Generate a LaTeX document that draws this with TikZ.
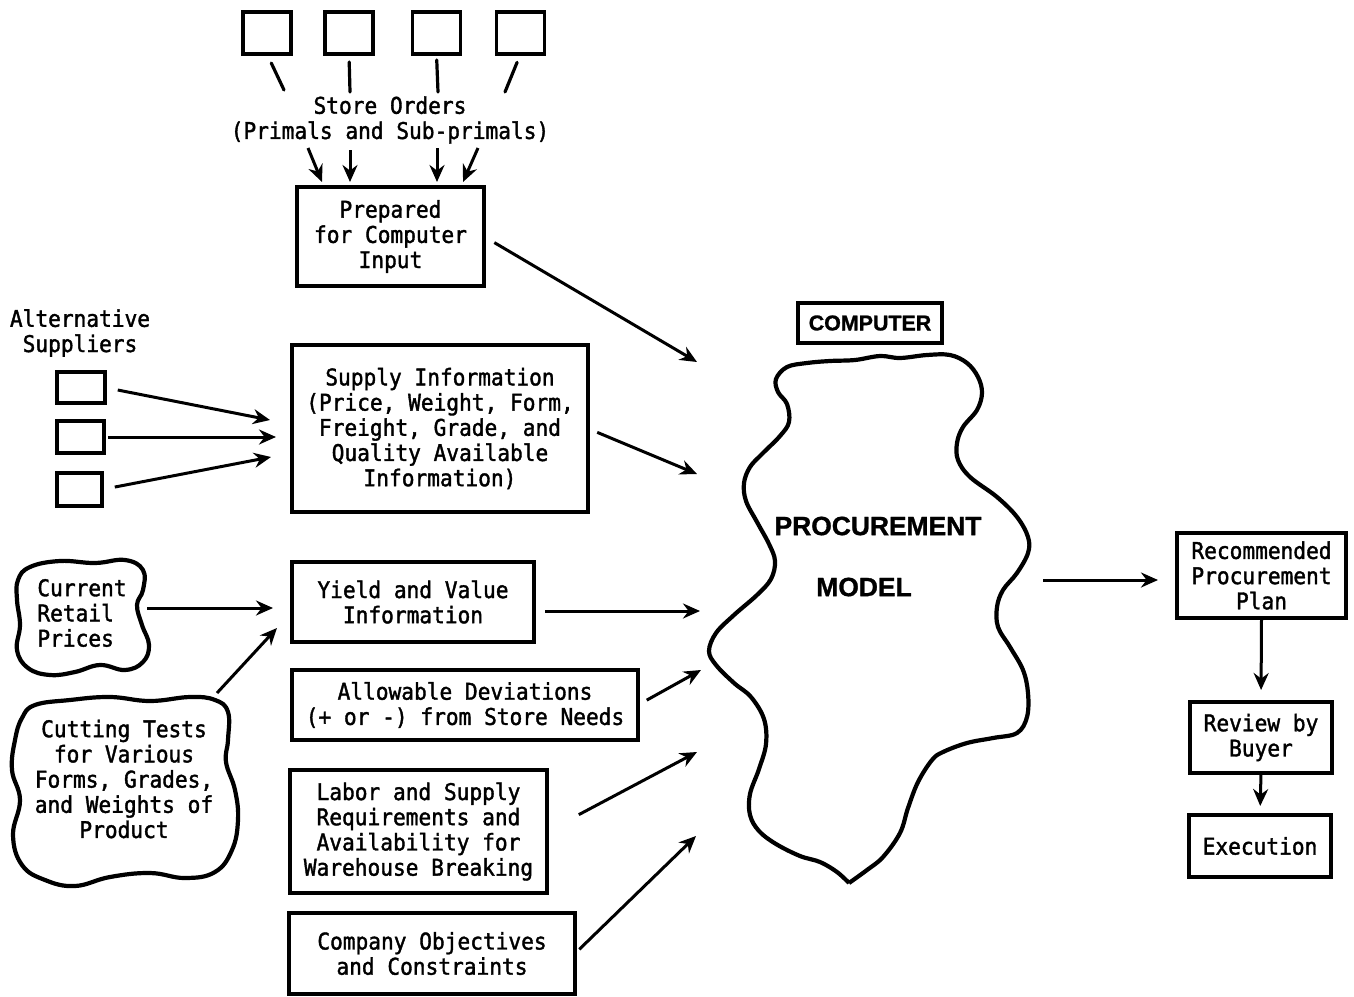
\documentclass[tikz,border=0pt]{standalone}
\usepackage{fontspec}
\usetikzlibrary{arrows.meta,calc}
\newfontfamily\typewr[FakeStretch=0.92,FakeBold=1.6]{DejaVu Sans Mono}
\newfontfamily\heavy[BoldFeatures={FakeBold=1.2}]{Liberation Sans}

\begin{document}
\begin{tikzpicture}[x=0.5pt,y=-0.5pt,
  every node/.style={inner sep=0pt, outer sep=0pt},
  tw/.style={font=\typewr\fontsize{11.5}{12.6}\selectfont, align=center},
  box/.style={tw, draw, line width=1.6pt},
  cell/.style={draw, line width=1.6pt, minimum width=24pt, minimum height=21pt},
  arr/.style={line width=1.5pt, -{Stealth[length=8.5pt,width=7.5pt,inset=2.8pt]}},
  wire/.style={line width=1.6pt, line cap=round},
  cloud/.style={line width=2.1pt, line join=round},
  hd/.style={font=\heavy\bfseries\fontsize{13.2}{14}\selectfont},
]
\path[use as bounding box] (0,0) rectangle (1354,996);

% ---------------- store orders ----------------
\node[cell] (s1) at (267,33) {};
\node[cell] (s2) at (349,33) {};
\node[cell] (s3) at (436.5,33) {};
\node[cell] (s4) at (520.5,33) {};
\node[tw] (orders) at (390,120) {Store Orders\\(Primals and Sub-primals)};

\coordinate (q1) at (284,90);
\coordinate (q2) at (350,92);
\coordinate (q3) at (438,92);
\coordinate (q4) at (505,92);
\draw[wire, shorten <=5pt] (s1.south) -- (q1);
\draw[wire, shorten <=4pt] (s2.south) -- (q2);
\draw[wire, shorten <=3pt] (s3.south) -- (q3);
\draw[wire, shorten <=4.5pt] (s4.south) -- (q4);

\node[box, minimum width=93.5pt, minimum height=49.5pt] (prep) at (390.5,236.5)
  {Prepared\\for Computer\\Input};

\coordinate (o1a) at (308,148); \coordinate (o1b) at (322,182);
\coordinate (o2a) at (350,150); \coordinate (o2b) at (350,182);
\coordinate (o3a) at (437,148); \coordinate (o3b) at (437,182);
\coordinate (o4a) at (478,148); \coordinate (o4b) at (463,182);
\draw[arr] (o1a) -- (o1b);
\draw[arr] (o2a) -- (o2b);
\draw[arr] (o3a) -- (o3b);
\draw[arr] (o4a) -- (o4b);

% ---------------- suppliers ----------------
\node[tw] (alt) at (80,333) {Alternative\\Suppliers};
\node[draw, line width=1.6pt, minimum width=24pt, minimum height=15.5pt] (supa) at (81,387.5) {};
\node[draw, line width=1.6pt, minimum width=23.5pt, minimum height=16pt] (supb) at (80.5,437) {};
\node[draw, line width=1.6pt, minimum width=22.5pt, minimum height=16.5pt] (supc) at (79.5,489.5) {};

\node[box, minimum width=148pt, minimum height=83.5pt] (supply) at (440,428.5)
  {Supply Information\\(Price, Weight, Form,\\Freight, Grade, and\\Quality Available\\Information)};

\coordinate (u1) at (270,420);
\coordinate (u2) at (276,437);
\coordinate (u3) at (271,457);
\draw[arr, shorten <=6.5pt] (supa.east) -- (u1);
\draw[arr, shorten <=2pt] (supb.east) -- (u2);
\draw[arr, shorten <=6.5pt] (supc.east) -- (u3);

% ---------------- retail prices and cutting tests ----------------
\draw[cloud] plot[smooth cycle, tension=0.7] coordinates {
  (30,567) (60,561) (95,563) (125,560) (143,570) (143,590) (137,605)
  (142,625) (149,645) (143,662) (125,670) (100,665) (75,672) (50,675)
  (28,668) (17,650) (20,625) (17,600) (18,580)};
\node[tw, align=left] (retail) at (82,613) {Current\\Retail\\Prices};

\draw[cloud] plot[smooth cycle, tension=0.7] coordinates {
  (35,705) (70,700) (110,697) (150,701) (190,697) (215,700) (228,712)
  (228,740) (226,762) (235,790) (238,820) (232,850) (215,872) (185,878)
  (150,873) (110,877) (75,886) (45,880) (22,865) (13,835) (20,800)
  (12,770) (15,740) (22,718)};
\node[tw] (cutting) at (124,779)
  {Cutting Tests\\for Various\\Forms, Grades,\\and Weights of\\Product};

\node[box, minimum width=121pt, minimum height=40pt] (yield) at (413,602)
  {Yield and Value\\Information};

\coordinate (r0) at (147,608);
\coordinate (r1) at (273,608);
\coordinate (c0) at (217,693);
\coordinate (c1) at (277,628);
\draw[arr] (r0) -- (r1);
\draw[arr] (c0) -- (c1);

% ---------------- remaining inputs ----------------
\node[box, minimum width=173pt, minimum height=35pt] (allow) at (465,705)
  {Allowable Deviations\\(+ or -) from Store Needs};
\node[box, minimum width=128.5pt, minimum height=61.5pt] (labor) at (418.5,831.5)
  {Labor and Supply\\Requirements and\\Availability for\\Warehouse Breaking};
\node[box, minimum width=143pt, minimum height=40.5pt] (company) at (432,953.5)
  {Company Objectives\\and Constraints};

% ---------------- procurement model ----------------
\node[draw, line width=1.6pt, minimum width=72pt, minimum height=20pt,
      font=\heavy\bfseries\fontsize{10.7}{12}\selectfont] (comp) at (870,323) {COMPUTER};

\draw[cloud] plot[smooth, tension=0.6] coordinates {
  (849,883) (837,872) (820,862) (800,856) (776,844) (759,831) (750,815)
  (750,794) (759,769) (766,744) (764,719) (751,697) (734,683) (716,665)
  (709,651) (716,633) (734,615) (757,595) (771,579) (775,561) (769,544)
  (757,522) (746,501) (744,483) (750,467) (762,454) (780,436) (789,422)
  (787,404) (778,392) (776,379) (787,367) (807,363) (830,361) (855,360)
  (880,356) (900,358) (927,355) (950,355) (967,363) (978,377) (982,393)
  (977,410) (963,427) (957,443) (958,460) (970,477) (997,497) (1017,517)
  (1028,537) (1028,553) (1017,573) (1003,590) (997,607) (998,627)
  (1010,647) (1023,670) (1028,693) (1027,717) (1017,733) (993,738)
  (967,743) (943,752) (932,760) (918,782) (908,808) (900,833) (883,857)
  (867,870) (849,883)};
\node[hd] (proc) at (878,526) {PROCUREMENT};
\node[hd] (model) at (864,587) {MODEL};

\coordinate (t1) at (697,362);
\coordinate (t2) at (697,474);
\coordinate (t3) at (700,611);
\coordinate (t4) at (701,670);
\coordinate (t5) at (697,752);
\coordinate (t6) at (696,836);
\draw[arr, shorten <=6pt] (prep.east) -- (t1);
\draw[arr, shorten <=5pt] (supply.east) -- (t2);
\draw[arr, shorten <=5.5pt] (yield.east |- t3) -- (t3);
\draw[arr, shorten <=5pt] (allow.east) -- (t4);
\draw[arr, shorten <=18pt] (labor.east) -- (t5);
\draw[arr, shorten <=3pt] (company.east) -- (t6);

% ---------------- outputs ----------------
\node[box, minimum width=84.5pt, minimum height=42.5pt] (rec) at (1261.5,575.5)
  {Recommended\\Procurement\\Plan};
\node[box, minimum width=71pt, minimum height=35.5pt] (review) at (1261,737.5)
  {Review by\\Buyer};
\node[box, minimum width=71pt, minimum height=31pt] (exec) at (1260,846)
  {Execution};

\coordinate (m0) at (1043,580);
\draw[arr, shorten >=9.5pt] (m0) -- (rec.west |- m0);
\draw[arr, shorten <=1pt, shorten >=6pt] (rec.south) -- (review.north);
\draw[arr, shorten <=1pt, shorten >=4.5pt] (review.south) -- (exec.north);
\end{tikzpicture}
\end{document}
